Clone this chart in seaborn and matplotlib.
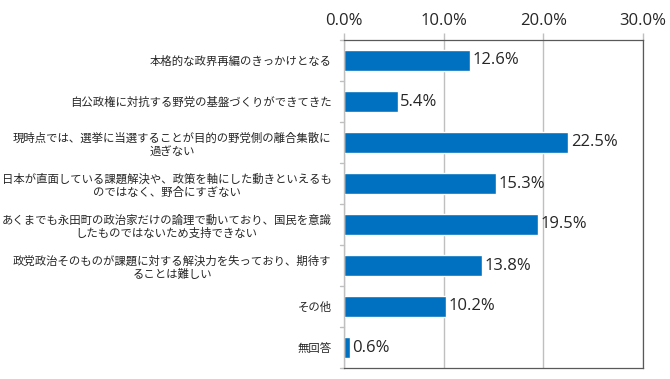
import matplotlib
matplotlib.use("Agg")
import matplotlib.pyplot as plt
import seaborn as sns
import pandas as pd
from matplotlib.ticker import FuncFormatter, MultipleLocator

categories = [
    "本格的な政界再編のきっかけとなる",
    "自公政権に対抗する野党の基盤づくりができてきた",
    "現時点では、選挙に当選することが目的の野党側の離合集散に\n過ぎない",
    "日本が直面している課題解決や、政策を軸にした動きといえるも\nのではなく、野合にすぎない",
    "あくまでも永田町の政治家だけの論理で動いており、国民を意識\nしたものではないため支持できない",
    "政党政治そのものが課題に対する解決力を失っており、期待す\nることは難しい",
    "その他",
    "無回答",
]
values = [12.6, 5.4, 22.5, 15.3, 19.5, 13.8, 10.2, 0.6]

df = pd.DataFrame({"cat": categories, "val": values})

sns.set_theme(style="white")
plt.rcParams["font.family"] = ["Noto Sans CJK JP", "DejaVu Sans"]

fig = plt.figure(figsize=(6.7, 3.79), dpi=100)
ax = fig.add_axes([344/670, 1-368/379, (643-344)/670, (368-40)/379])

sns.barplot(data=df, x="val", y="cat", ax=ax, color="#0070C0", width=0.49,
            saturation=1, orient="h")

ax.set_xlim(0, 30)
ax.xaxis.set_major_locator(MultipleLocator(10))
ax.xaxis.set_major_formatter(FuncFormatter(lambda v, p: f"{v:.1f}%"))
ax.xaxis.tick_top()
ax.set_xlabel("")
ax.set_ylabel("")
ax.grid(axis="x", color="#BFBFBF", linewidth=1.0)
ax.set_axisbelow(True)
for k in ["top", "right", "bottom"]:
    ax.spines[k].set_color("#595959")
    ax.spines[k].set_linewidth(0.9)
ax.spines["left"].set_color("#BFBFBF")
ax.spines["left"].set_linewidth(1.0)

for lab in ax.get_xticklabels():
    lab.set_fontfamily(["Open Sans", "DejaVu Sans"])
    lab.set_fontsize(12)
ax.tick_params(axis="x", length=5, color="#BFBFBF", width=1.0, pad=3, top=True)
ax.tick_params(axis="y", length=0, pad=9)
for lab in ax.get_yticklabels():
    lab.set_fontsize(8.2)
    lab.set_multialignment("center")
    lab.set_linespacing(1.25)

# category boundary ticks on left
n = len(categories)
for i in range(n + 1):
    ax.plot([-0.012, 0], [i - 0.5, i - 0.5], transform=ax.get_yaxis_transform(),
            color="#BFBFBF", linewidth=1.0, clip_on=False)
ax.set_ylim(n - 0.5, -0.5)

for i, v in enumerate(values):
    ax.text(v + 0.25, i, f"{v:.1f}%", va="center", ha="left", fontsize=12,
            fontfamily=["Open Sans", "DejaVu Sans"])

fig.savefig("out.png", dpi=100)
